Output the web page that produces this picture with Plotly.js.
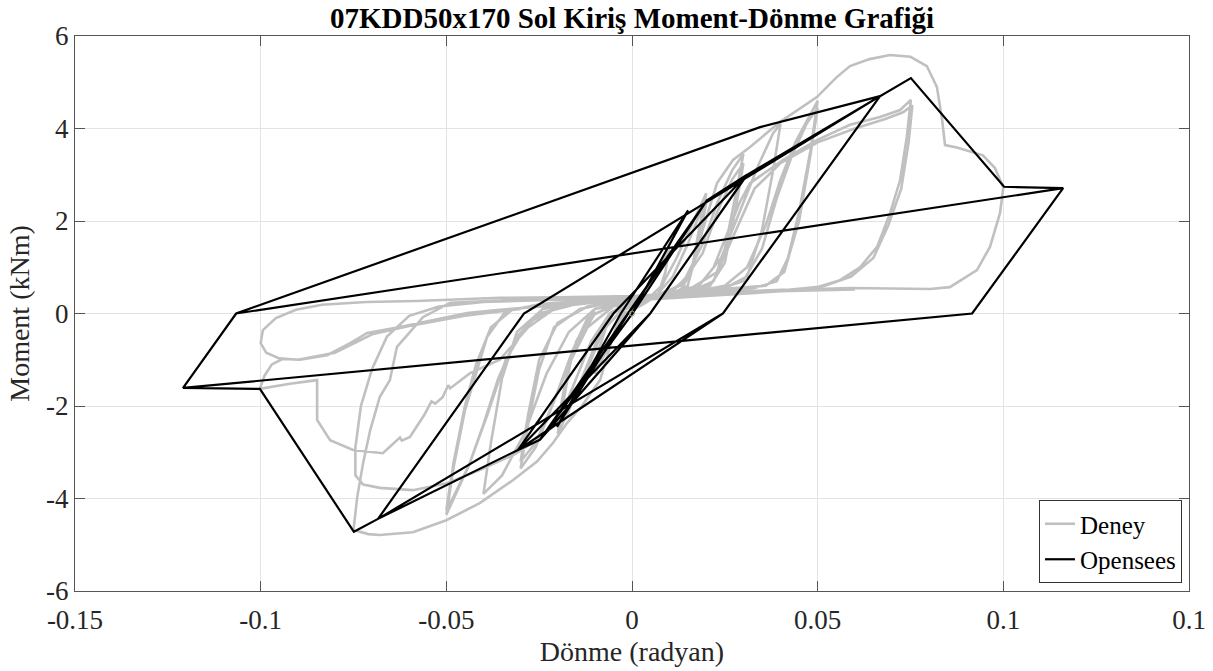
<!DOCTYPE html>
<html>
<head>
<meta charset="utf-8">
<script src="https://cdn.plot.ly/plotly-3.0.1.min.js"></script>
<style>html,body{margin:0;padding:0;background:#fff;}#chart{width:1213px;height:671px;}</style>
</head>
<body>
<div id="chart"></div>
<script>
// ---- Data (rotation in rad, moment in kNm) ----
const xTickVals = [-0.15, -0.1, -0.05, 0, 0.05, 0.1, 0.15];
const xTickText = ['-0.15', '-0.1', '-0.05', '0', '0.05', '0.1', '0.1'];
const yTickVals = [-6, -4, -2, 0, 2, 4, 6];
const yTickText = ['-6', '-4', '-2', '0', '2', '4', '6'];

// Deney (experiment)
const deneyX = [
 0,
 0.004,0.008,0.010,0.009,0.007,0.003,-0.002,-0.005,-0.008,-0.010,-0.009,-0.007,-0.003,0.0,
 0.004,0.008,0.012,0.016,0.019,0.020,0.018,0.016,0.013,0.006,0.0,-0.005,-0.009,-0.013,-0.017,-0.020,-0.018,-0.016,-0.012,-0.006,0.0,
 0.006,0.011,0.015,0.018,0.020,0.018,0.015,0.010,0.0,-0.006,-0.011,-0.015,-0.018,-0.020,-0.018,-0.015,-0.010,0.0,
 0.008,0.014,0.019,0.023,0.027,0.030,0.028,0.025,0.022,0.015,0.005,-0.005,-0.012,-0.017,-0.022,-0.026,-0.030,-0.028,-0.025,-0.021,-0.014,-0.005,
 0.005,0.013,0.019,0.023,0.027,0.030,0.028,0.025,0.021,0.012,0.0,-0.010,-0.016,-0.021,-0.026,-0.030,-0.028,-0.025,-0.020,-0.012,0.0,
 0.010,0.018,0.024,0.029,0.034,0.038,0.040,0.038,0.035,0.031,0.024,0.010,0.0,-0.010,-0.017,-0.023,-0.029,-0.035,-0.040,-0.038,-0.035,-0.031,-0.024,-0.012,
 0.0,0.015,0.025,0.031,0.036,0.040,0.044,0.048,0.050,0.048,0.045,0.042,0.039,0.033,0.020,0.0,-0.015,-0.025,-0.031,-0.036,-0.040,-0.044,-0.048,-0.050,-0.048,-0.045,-0.042,-0.039,-0.034,-0.025,-0.010,
 0.0,0.020,0.030,0.035,0.039,0.043,0.047,0.050,0.048,0.045,0.041,0.036,0.020,0.0,-0.020,-0.028,-0.034,-0.039,-0.044,-0.048,-0.050,-0.048,-0.045,-0.042,-0.038,-0.032,-0.020,0.0,
 0.010,0.016,0.019,0.0229,0.0272,0.0318,0.040,0.0498,0.055,0.0587,0.064,0.0695,0.075,0.0794,0.0821,0.0835,0.0843,0.0875,0.0945,0.0977,0.100,0.0991,0.0964,0.0929,0.0856,0.0803,0.0587,0.0426,0.020,0.0,
 -0.004,-0.0086,-0.0135,-0.0175,-0.0213,-0.0256,-0.032,-0.041,-0.050,-0.059,-0.068,-0.071,-0.075,-0.074,-0.0724,-0.0705,-0.0679,-0.0652,-0.0633,-0.0563,-0.049,-0.030,0.0,
 0.010,0.018,0.022,0.026,0.029,0.0318,0.0407,0.0498,0.0587,0.0668,0.0722,0.0751,0.074,0.0722,0.0695,0.066,0.0614,0.056,0.0498,0.0426,0.020,0.0,
 -0.006,-0.010,-0.015,-0.0213,-0.0256,-0.032,-0.0409,-0.0498,-0.059,-0.0679,-0.0724,-0.0745,-0.0745,-0.073,-0.070,-0.066,-0.060,-0.052,-0.040,-0.020,0.0,
 0.015,0.023,0.028,0.033,0.040,0.050,0.060,0.068,0.073,0.0755,0.0745,0.0725,0.069,0.065,0.059,0.052,0.043,0.020,0.0,-0.020,
 -0.028,-0.0356,-0.0436,-0.047,-0.049,-0.0495,-0.051,-0.053,-0.054,-0.056,-0.0598,-0.062,-0.0625,-0.0671,-0.0751,-0.0813,-0.0848,-0.0848,-0.0921,-0.1002,
 -0.0990,-0.0970,-0.0940,-0.0894,-0.0821,-0.0759,-0.0713,-0.0625,-0.0536,-0.0444,-0.0356,-0.020,0.0,0.020,0.040,0.060,
 0.040,0.020,0.0,-0.020,-0.0356,-0.058,-0.0716,-0.0835,-0.0905,-0.0959,-0.0994,-0.100,-0.0985,-0.095,-0.090,-0.080,-0.070,-0.060,-0.045,-0.030
];
const deneyY = [
 0,
 0.5,1.1,1.4,0.9,0.4,0.2,0.0,-0.5,-1.0,-1.3,-0.8,-0.3,0.05,0.15,
 0.3,0.6,1.2,1.9,2.4,2.6,1.8,0.9,0.5,0.35,0.25,0.0,-0.5,-1.3,-2.1,-2.6,-1.7,-0.8,-0.1,0.15,0.2,
 0.35,0.8,1.5,2.1,2.4,1.5,0.6,0.4,0.3,0.0,-0.6,-1.4,-2.0,-2.4,-1.5,-0.6,0.1,0.25,
 0.35,0.7,1.5,2.4,3.1,3.45,2.6,1.4,0.7,0.45,0.35,0.15,-0.3,-1.1,-2.1,-2.9,-3.35,-2.4,-1.2,-0.3,0.1,0.25,
 0.35,0.6,1.3,2.2,2.9,3.25,2.3,1.1,0.6,0.45,0.3,0.0,-0.8,-1.9,-2.8,-3.2,-2.2,-1.0,-0.2,0.15,0.3,
 0.4,0.6,1.2,2.2,3.2,3.9,4.1,3.1,1.8,0.8,0.5,0.4,0.3,0.1,-0.4,-1.3,-2.6,-3.5,-3.9,-2.8,-1.4,-0.4,0.1,0.25,
 0.3,0.45,0.6,1.0,1.9,2.9,3.7,4.3,4.6,3.5,2.2,1.2,0.7,0.55,0.45,0.35,0.2,0.0,-0.5,-1.4,-2.4,-3.3,-4.0,-4.35,-3.3,-2.1,-1.3,-0.5,0.05,0.2,0.3,
 0.32,0.45,0.7,1.4,2.5,3.4,4.1,4.45,3.4,2.0,0.9,0.6,0.5,0.35,0.15,-0.2,-1.0,-2.2,-3.3,-3.95,-4.25,-3.2,-2.0,-1.1,-0.3,0.1,0.22,0.3,
 0.4,0.9,1.8,2.82,3.32,3.6,4.15,4.68,5.1,5.35,5.5,5.59,5.55,5.35,4.9,4.2,3.64,3.59,3.42,3.15,2.73,2.17,1.44,0.94,0.57,0.53,0.55,0.51,0.45,0.35,
 -0.2,-1.44,-2.0,-2.37,-2.8,-3.2,-3.6,-4.1,-4.47,-4.73,-4.79,-4.77,-4.68,-3.97,-3.23,-2.52,-1.8,-1.44,-0.72,-0.08,0.23,0.3,0.35,
 0.45,0.6,1.0,1.8,2.4,2.82,3.32,3.75,4.08,4.25,4.4,4.62,3.82,2.88,2.17,1.44,1.0,0.72,0.57,0.52,0.45,0.3,
 0.0,-0.8,-1.8,-2.45,-2.74,-3.06,-3.38,-3.67,-3.82,-3.77,-3.7,-3.5,-2.9,-2.0,-1.2,-0.5,-0.05,0.15,0.25,0.3,0.35,
 0.5,0.9,1.8,2.7,3.25,3.7,4.0,4.2,4.35,4.5,3.7,2.7,1.9,1.2,0.8,0.6,0.5,0.42,0.32,0.15,
 -0.3,-1.0,-1.29,-1.5,-1.62,-1.55,-1.81,-1.95,-1.9,-2.2,-2.67,-2.75,-2.68,-3.02,-2.95,-2.74,-2.3,-1.44,-1.52,-1.63,
 -1.35,-1.1,-0.98,-1.0,-0.9,-0.64,-0.42,-0.29,-0.14,0.01,0.08,0.18,0.28,0.38,0.48,0.52,
 0.5,0.45,0.38,0.35,0.34,0.27,0.25,0.19,0.08,-0.10,-0.36,-0.64,-0.85,-0.97,-1.0,-0.85,-0.45,-0.27,-0.05,0.1
];

// Opensees (model)
const openseesX = [0, 0.0151, -0.0030, -0.0202, -0.0010, 0.0202, 0.0001, -0.0248, -0.0011, 0.0202, 0.031,
  0.0049, -0.0248, -0.0307, -0.0050, 0.031, 0.0049, -0.0307, -0.0050, 0.031, 0.0668,
  0.0245, -0.0307, -0.0684, -0.0291, 0.0668, 0.0245, -0.0684, -0.0749, -0.1002, -0.1209,
  -0.1066, 0.0345, 0.0668, 0.0751, 0.1002, 0.1161, 0.0916, -0.1209, -0.1066, 0.1161];
const openseesY = [0, 2.23, 0, -2.45, 0, 2.45, 0, -2.73, 0, 2.45, 3.0,
  0, -2.73, -2.95, 0, 3.0, 0, -2.95, 0, 3.0, 4.70,
  0, -2.95, -4.44, 0, 4.70, 0, -4.44, -4.72, -1.63, -1.61,
  0, 4.03, 4.70, 5.09, 2.74, 2.71, 0, -1.61, 0, 2.71];

const startX = [0];
const startY = [0];

const serif = '"Liberation Serif", "Times New Roman", Times, serif';

const traces = [
  {x: deneyX, y: deneyY, type: 'scatter', mode: 'lines', name: 'Deney',
   line: {color: '#c0c0c0', width: 2.6}},
  {x: openseesX, y: openseesY, type: 'scatter', mode: 'lines', name: 'Opensees',
   line: {color: '#000000', width: 2.2}},
  {x: startX, y: startY, type: 'scatter', mode: 'markers', showlegend: false, name: 'start',
   marker: {symbol: 'circle-open', size: 5, color: '#9a9a6a', line: {width: 1}}}
];

const axisCommon = {
  ticks: 'inside', ticklen: 10, tickwidth: 1, tickcolor: '#555555',
  showline: true, linecolor: '#555555', linewidth: 1, mirror: 'ticks',
  showgrid: true, gridcolor: '#e3e3e3', gridwidth: 1, zeroline: false,
  tickfont: {family: serif, size: 27, color: '#262626'}
};

const layout = {
  width: 1213, height: 671,
  margin: {l: 75, r: 24, t: 36, b: 80},
  paper_bgcolor: '#ffffff', plot_bgcolor: '#ffffff',
  font: {family: serif, size: 27, color: '#262626'},
  title: {text: '<b>07KDD50x170 Sol Kiriş Moment-Dönme Grafiği</b>',
          font: {family: serif, size: 29, color: '#000000'},
          x: 0.5, xref: 'paper', xanchor: 'center', y: 0.973, yref: 'container', yanchor: 'middle'},
  xaxis: Object.assign({}, axisCommon, {
    range: [-0.15, 0.15], tickmode: 'array', tickvals: xTickVals, ticktext: xTickText,
    ticklabelstandoff: 5,
    title: {text: 'Dönme (radyan)', font: {family: serif, size: 28, color: '#262626'}, standoff: 6}
  }),
  yaxis: Object.assign({}, axisCommon, {
    range: [-6, 6], tickmode: 'array', tickvals: yTickVals, ticktext: yTickText,
    title: {text: 'Moment (kNm)', font: {family: serif, size: 28, color: '#262626'}, standoff: 8}
  }),
  legend: {x: 0.9937, y: 0.0144, xanchor: 'right', yanchor: 'bottom',
           bgcolor: '#ffffff', bordercolor: '#333333', borderwidth: 1,
           font: {family: serif, size: 25, color: '#000000'},
           itemwidth: 30, tracegroupgap: 0},
  showlegend: true
};

Plotly.newPlot('chart', traces, layout, {staticPlot: true, displayModeBar: false});
</script>
</body>
</html>
